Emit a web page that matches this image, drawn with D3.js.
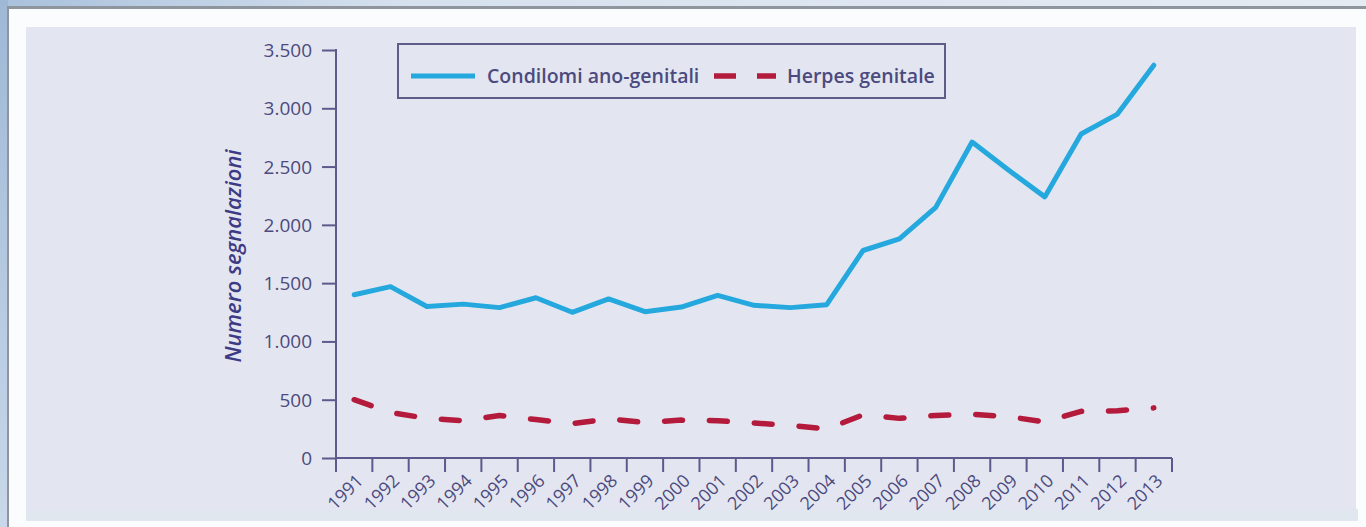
<!DOCTYPE html>
<html>
<head>
<meta charset="utf-8">
<script src="https://cdn.jsdelivr.net/npm/d3@7"></script>
<style>
  html, body { margin: 0; padding: 0; background: #ffffff; }
  svg { display: block; }
</style>
</head>
<body>
<svg id="chart" width="1366" height="527"></svg>
<script>
// ---- data ----
const years = ["1991","1992","1993","1994","1995","1996","1997","1998","1999","2000","2001","2002","2003","2004","2005","2006","2007","2008","2009","2010","2011","2012","2013"];
const condilomi = [1400,1470,1300,1320,1290,1375,1250,1365,1255,1295,1395,1310,1290,1315,1780,1880,2150,2710,2470,2240,2780,2950,3370];
const herpes = [500,390,340,320,365,330,295,335,305,325,320,300,280,250,370,340,365,375,355,310,400,405,430];
const yTickValues = [0,500,1000,1500,2000,2500,3000,3500];
const seriesNames = ["Condilomi ano-genitali","Herpes genitale"];
const yTitle = "Numero segnalazioni";

// ---- style ----
const W = 1366, H = 527;
const axisColor = "#5c5a8c";
const textColor = "#4c4a7e";
const blue = "#25a8dd";
const red = "#b41a3b";
const font = "'Open Sans', 'Noto Sans', sans-serif";

const svg = d3.select("#chart");

// background (slide framing)
const defs = svg.append("defs");
const g1 = defs.append("linearGradient").attr("id","topg").attr("x1","0").attr("x2","1").attr("y1","0").attr("y2","0");
g1.append("stop").attr("offset","0").attr("stop-color","#a9c1dc");
g1.append("stop").attr("offset","0.3").attr("stop-color","#d6e1ee");
g1.append("stop").attr("offset","1").attr("stop-color","#e4ebf3");
const g2 = defs.append("linearGradient").attr("id","leftg").attr("x1","0").attr("x2","0").attr("y1","0").attr("y2","1");
g2.append("stop").attr("offset","0").attr("stop-color","#9fb8d6");
g2.append("stop").attr("offset","1").attr("stop-color","#c9d8ea");

svg.append("rect").attr("x",0).attr("y",0).attr("width",W).attr("height",H).attr("fill","url(#topg)");
svg.append("rect").attr("x",0).attr("y",0).attr("width",8).attr("height",H).attr("fill","url(#leftg)");
svg.append("rect").attr("x",7).attr("y",6).attr("width",W-7).attr("height",H-6).attr("fill","#8f959c");
svg.append("rect").attr("x",9).attr("y",9).attr("width",W-9).attr("height",H-9).attr("fill","#fbfcfd");
svg.append("rect").attr("x",26).attr("y",509).attr("width",1332).attr("height",12).attr("fill","#e0e7ef");
svg.append("rect").attr("x",26).attr("y",27).attr("width",1330).attr("height",483).attr("fill","#e3e6f0");

// scales
const x = d3.scaleBand().domain(years).range([336, 1172]).padding(0);
const y = d3.scaleLinear().domain([0, 3500]).range([458, 50]);
const bw = x.bandwidth();
const fmt = d3.formatLocale({decimal: ",", thousands: ".", grouping: [3], currency: ["", "€"]}).format(",");

// y axis ticks
const yAxis = d3.axisLeft(y).tickValues(yTickValues).tickSize(14).tickSizeOuter(0).tickPadding(10).tickFormat(fmt);
const gy = svg.append("g").attr("transform", "translate(336,0)").call(yAxis);
gy.select(".domain").remove();
gy.selectAll(".tick line").attr("stroke", axisColor).attr("stroke-width", 2);
gy.selectAll(".tick text").attr("fill", textColor).attr("font-family", font).attr("font-size", 19).attr("font-weight", 500).attr("dy","0.34em");

// axis lines
svg.append("line").attr("x1",336).attr("x2",336).attr("y1",y(3500)-1).attr("y2",472).attr("stroke",axisColor).attr("stroke-width",2);
svg.append("line").attr("x1",335).attr("x2",1172).attr("y1",y(0)).attr("y2",y(0)).attr("stroke",axisColor).attr("stroke-width",2);

// x ticks at band boundaries
const boundaries = years.map(d => x(d)).concat([x.range()[1]]);
svg.append("g").selectAll("line").data(boundaries).join("line")
  .attr("x1", d => d).attr("x2", d => d).attr("y1", y(0)).attr("y2", 472)
  .attr("stroke", axisColor).attr("stroke-width", 2);

// x labels
svg.append("g").selectAll("text").data(years).join("text")
  .attr("transform", d => `translate(${x(d) + bw/2 + 10},${482}) rotate(-45)`)
  .attr("text-anchor", "end")
  .attr("fill", textColor).attr("font-family", font).attr("font-size", 18).attr("font-weight", 500)
  .text(d => d);

// y title
svg.append("text")
  .attr("transform", "translate(241,256) rotate(-90)")
  .attr("text-anchor", "middle")
  .attr("fill", "#3d3b85").attr("font-family", font).attr("font-size", 22)
  .attr("font-style", "italic").attr("font-weight", 600)
  .text(yTitle);

// lines
const line = d3.line().x((d, i) => x(years[i]) + bw/2).y(d => y(d));
svg.append("path").datum(condilomi).attr("d", line)
  .attr("fill","none").attr("stroke", blue).attr("stroke-width", 5).attr("stroke-linejoin","round").attr("stroke-linecap","round");
const rp = svg.append("path").datum(herpes).attr("d", line)
  .attr("fill","none").attr("stroke", red).attr("stroke-width", 5.5).attr("stroke-linecap","round").attr("stroke-linejoin","round");
const L = rp.node().getTotalLength();
const n = Math.round(L / 44);
const period = (L - 0.5) / n;
rp.attr("stroke-dasharray", `${period*0.4} ${period*0.6}`);

// legend
const lg = svg.append("g");
lg.append("rect").attr("x",398).attr("y",44).attr("width",547).attr("height",54)
  .attr("fill","none").attr("stroke","#5f5c8a").attr("stroke-width",2);
lg.append("line").attr("x1",411).attr("x2",475).attr("y1",76).attr("y2",76).attr("stroke",blue).attr("stroke-width",5);
lg.append("text").attr("x",487).attr("y",83).attr("fill",textColor).attr("font-family",font).attr("font-size",19.5).attr("font-weight",600).text(seriesNames[0]);
lg.append("line").attr("x1",714).attr("x2",776).attr("y1",76).attr("y2",76).attr("stroke",red).attr("stroke-width",5.5)
  .attr("stroke-dasharray","22 21");
lg.append("text").attr("x",787).attr("y",83).attr("fill",textColor).attr("font-family",font).attr("font-size",19.5).attr("font-weight",600).text(seriesNames[1]);
</script>
</body>
</html>
